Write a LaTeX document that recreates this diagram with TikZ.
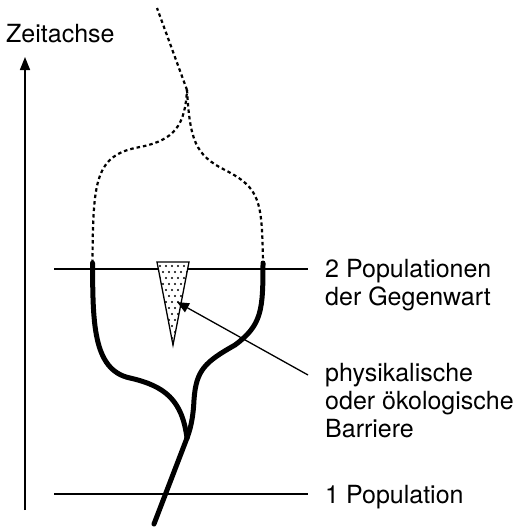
\documentclass[tikz,border=0pt]{standalone}
\usepackage{fontspec}
\setmainfont{TeX Gyre Heros}
\usetikzlibrary{arrows.meta}
\begin{document}
\begin{tikzpicture}[x=1pt,y=-1pt,
  lbl/.style={anchor=base west,inner sep=0pt,align=left,font=\fontsize{25}{28}\selectfont},
  thinline/.style={line width=1.5pt},
  lineage/.style={line width=5pt,line cap=round,line join=round},
  ancestor/.style={line width=2.2pt,dash pattern=on 3.5pt off 3pt},
  barrier/.style={line width=1.3pt,line join=miter}]
\useasboundingbox (0,0) rectangle (517,528);
% axis
\coordinate (axB) at (25,510);
\coordinate (axT) at (25,57);
\draw[thinline,-{Triangle[length=13pt,width=10pt]}] (axB) -- (axT);
\node[lbl] (zeit) at (6,42) {Zeitachse};
% horizontal lines
\coordinate (h1a) at (54,269); \coordinate (h1b) at (308,269);
\coordinate (h2a) at (54,494); \coordinate (h2b) at (308,494);
\draw[thinline] (h1a) -- (h1b);
\draw[line width=1.3pt] (h2a) -- (h2b);
\node[lbl] (pop2) at (325,305) {2 Populationen\\der Gegenwart};
\node[lbl] (pop1) at (325,503) {1 Population};
\node[lbl] (barr) at (325,437) {physikalische\\oder ökologische\\Barriere};
% key points
\coordinate (L) at (92.5,263);
\coordinate (R) at (263,263);
\coordinate (J) at (187,438);
\coordinate (S) at (154,524);
\coordinate (M) at (187,90);
\coordinate (T) at (157,8);
% lineages
\draw[lineage] (L) .. controls (93,320) and (92,370) .. (130,378)
  .. controls (165,386) and (182,400) .. (J);
\draw[lineage] (R) .. controls (263,310) and (262,325) .. (235,345)
  .. controls (205,362) and (196,370) .. (194,400)
  .. controls (193,420) and (190,430) .. (J);
\draw[lineage] (J) -- (S);
% ancestral dotted lines
\draw[ancestor] (L) .. controls (93,180) and (95,155) .. (140,147)
  .. controls (175,140) and (185,125) .. (M);
\draw[ancestor] (M) .. controls (190,140) and (195,155) .. (225,170)
  .. controls (260,188) and (262,200) .. (R);
\draw[ancestor] (M) -- (T);
% barrier
\coordinate (b1) at (157,262);
\coordinate (b2) at (189,262);
\coordinate (b3) at (173,345);
\fill[white] (b1) -- (b2) -- (b3) -- cycle;
\begin{scope}
  \clip (b1) -- (b2) -- (b3) -- cycle;
  \foreach \r in {0,...,14} {
    \pgfmathsetmacro{\yy}{266+6*\r}
    \pgfmathsetmacro{\off}{mod(\r,2)*3}
    \foreach \c in {0,...,7} {
      \fill ({154+\off+6*\c},\yy) circle (1.1pt);
    }
  }
\end{scope}
\draw[barrier] (b1) -- (b2) -- (b3) -- cycle;
\coordinate (arS) at (308,375);
\coordinate (arT) at (177,302);
\draw[line width=1.3pt,-{Triangle[length=12pt,width=10pt]}] (arS) -- (arT);
\end{tikzpicture}
\end{document}
